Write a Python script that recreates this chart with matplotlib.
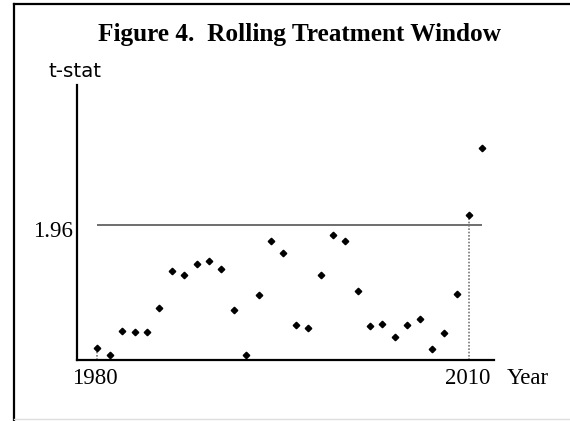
import numpy as np
import matplotlib
matplotlib.use("Agg")
import matplotlib.pyplot as plt
from matplotlib.lines import Line2D

# Data
years = np.arange(1980, 2012)
tstat = [0.18, 0.07, 0.42, 0.41, 0.41, 0.76, 1.29, 1.23, 1.39, 1.44,
         1.32, 0.73, 0.07, 0.94, 1.73, 1.55, 0.51, 0.47, 1.24, 1.82,
         1.73, 1.00, 0.50, 0.53, 0.34, 0.51, 0.60, 0.16, 0.40, 0.96,
         2.11, 3.09]
crit = 1.96
tick_years = [1980, 2010]

fig = plt.figure(figsize=(5.70, 4.21), dpi=100)
ax = fig.add_axes([77 / 570, 1 - 360 / 421, (494 - 77) / 570, (360 - 85) / 421])

# critical value line
ax.plot([1980, 2011], [crit, crit], color='#555555', lw=1.2, solid_capstyle='butt')

# dotted drop lines at the window ends
for yr in tick_years:
    v = tstat[yr - 1980]
    ax.plot([yr, yr], [0, v], color='#777777', lw=1.2, ls=(0, (1, 1)))

ax.plot(years, tstat, ls='none', marker='D', ms=3.3, color='black')

ax.set_xlim(1978.35, 2012.0)
ax.set_ylim(0, 4.0)
for s in ['top', 'right']:
    ax.spines[s].set_visible(False)
for s in ['left', 'bottom']:
    ax.spines[s].set_linewidth(1.6)
ax.set_xticks([])
ax.set_yticks([])

serif = 'Liberation Serif'
fig.text(300 / 570, 1 - 41.5 / 421, 'Figure 4.  Rolling Treatment Window', ha='center',
         va='baseline', fontsize=18.2, fontweight='bold', family=serif)
fig.text(75 / 570, 1 - 77 / 421, 't-stat', ha='center', va='baseline', fontsize=14.3,
         family='DejaVu Sans')
fig.text(73 / 570, 1 - 237 / 421, '1.96', ha='right', va='baseline', fontsize=16.5, family=serif)
for yr, xp in zip(tick_years, [95, 467.5]):
    fig.text(xp / 570, 1 - 384.5 / 421, str(yr), ha='center', va='baseline', fontsize=16.5,
             family=serif)
fig.text(528 / 570, 1 - 384.5 / 421, 'Year', ha='center', va='baseline', fontsize=16.5,
         family=serif)

# frame around the figure (left and top edges)
fig.add_artist(Line2D([14 / 570, 14 / 570], [0, 1 - 4 / 421], color='black', lw=1.6,
                      transform=fig.transFigure))
fig.add_artist(Line2D([14 / 570, 1], [1 - 4 / 421, 1 - 4 / 421], color='black', lw=1.6,
                      transform=fig.transFigure))
fig.add_artist(Line2D([14 / 570, 1], [1 - 419 / 421, 1 - 419 / 421], color='#dddddd', lw=1,
                      transform=fig.transFigure))

fig.savefig('out.png', dpi=100)
